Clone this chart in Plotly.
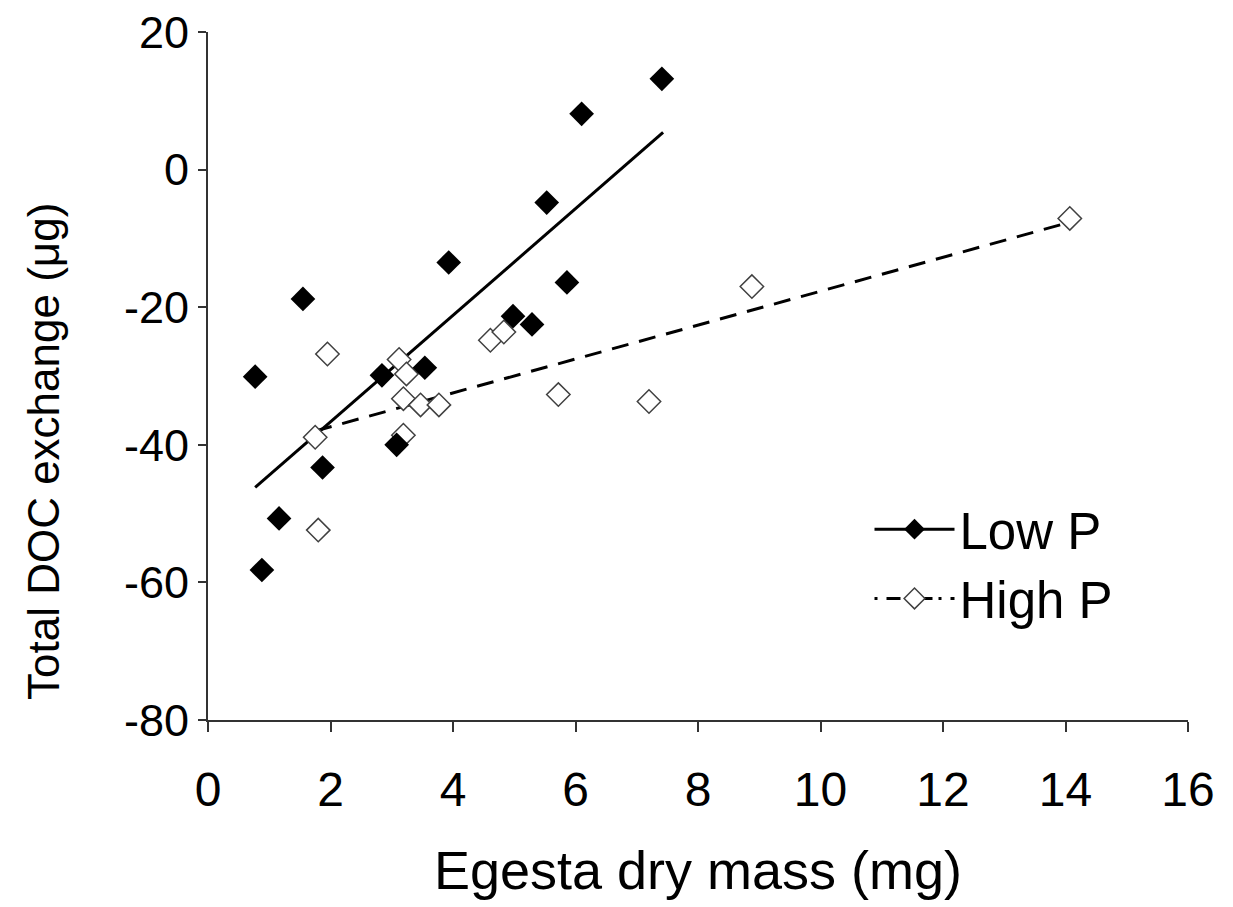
import plotly.graph_objects as go

# Low P (filled diamonds)
low_x = [0.77, 0.88, 1.16, 1.55, 1.87, 2.84, 3.08, 3.54, 3.93, 4.98, 5.29, 5.53, 5.86, 6.10, 7.41]
low_y = [-30.1, -58.2, -50.7, -18.8, -43.3, -29.9, -40.0, -28.8, -13.5, -21.3, -22.5, -4.8, -16.4, 8.1, 13.2]

# High P (open diamonds)
high_x = [1.75, 1.80, 1.95, 3.12, 3.19, 3.19, 3.24, 3.47, 3.77, 4.61, 4.83, 5.72, 7.20, 8.88, 14.07]
high_y = [-38.9, -52.4, -26.8, -27.6, -33.3, -38.6, -29.7, -34.2, -34.2, -24.8, -23.6, -32.7, -33.7, -17.0, -7.1]

# Trend lines
low_fit_x = [0.77, 7.43]
low_fit_y = [-46.2, 5.4]
high_fit_x = [1.75, 14.05]
high_fit_y = [-38.0, -7.7]

x_ticks = [0, 2, 4, 6, 8, 10, 12, 14, 16]
y_ticks = [-80, -60, -40, -20, 0, 20]

FONT = "Liberation Sans, Arial, sans-serif"

fig = go.Figure()

fig.add_trace(go.Scatter(x=low_fit_x, y=low_fit_y, mode="lines",
                         line=dict(color="black", width=3), showlegend=False,
                         hoverinfo="skip"))
fig.add_trace(go.Scatter(x=high_fit_x, y=high_fit_y, mode="lines",
                         line=dict(color="black", width=3, dash="17px,11px"),
                         showlegend=False, hoverinfo="skip"))

fig.add_trace(go.Scatter(x=high_x, y=high_y, mode="markers",
                         marker=dict(symbol="diamond", size=18, color="white",
                                     line=dict(color="#404040", width=1.5)),
                         showlegend=False))
fig.add_trace(go.Scatter(x=low_x, y=low_y, mode="markers",
                         marker=dict(symbol="diamond", size=19, color="black",
                                     line=dict(color="black", width=0)),
                         showlegend=False))

# legend entries
fig.add_trace(go.Scatter(x=[None], y=[None], mode="lines+markers", name="Low P",
                         line=dict(color="black", width=3),
                         marker=dict(symbol="diamond", size=19, color="black")))
fig.add_trace(go.Scatter(x=[None], y=[None], mode="lines+markers", name="High P",
                         line=dict(color="black", width=3, dash="3px,9px,14px,6px"),
                         marker=dict(symbol="diamond", size=16, color="white",
                                     line=dict(color="#404040", width=1.5))))

fig.update_layout(
    width=1233, height=907,
    margin=dict(l=200, r=53, t=24, b=195),
    paper_bgcolor="white", plot_bgcolor="white",
    font=dict(family=FONT, color="black"),
    showlegend=True,
    legend=dict(x=0.675, y=0.335, xanchor="left", yanchor="top",
                font=dict(size=51, family=FONT, color="black"),
                bgcolor="rgba(0,0,0,0)", itemwidth=80, tracegroupgap=0),
    xaxis=dict(range=[0, 16], tickvals=x_ticks, ticktext=[str(v) for v in x_ticks],
               showgrid=False, zeroline=False, showline=True, linecolor="#333",
               linewidth=2, ticks="outside", ticklen=10, tickwidth=2, tickcolor="#333",
               tickfont=dict(size=48, family=FONT), ticklabelstandoff=16,
               ticklabeloverflow="allow", automargin=False,
               title=dict(text="Egesta dry mass (mg)", font=dict(size=54, family=FONT),
                          standoff=37)),
    yaxis=dict(range=[-80, 20], tickvals=y_ticks, ticktext=[str(v) for v in y_ticks],
               showgrid=False, zeroline=False, showline=True, linecolor="#333",
               linewidth=2, ticks="outside", ticklen=8, tickwidth=2, tickcolor="#333",
               tickfont=dict(size=45, family=FONT), ticklabelstandoff=0,
               ticklabeloverflow="allow", automargin=False),
    annotations=[dict(text="Total DOC exchange (μg)", textangle=-90,
                      xref="paper", yref="paper", x=-0.168, y=0.39,
                      xanchor="center", yanchor="middle", showarrow=False,
                      font=dict(size=44, family=FONT, color="black"))],
)

fig.write_html("out.html")
